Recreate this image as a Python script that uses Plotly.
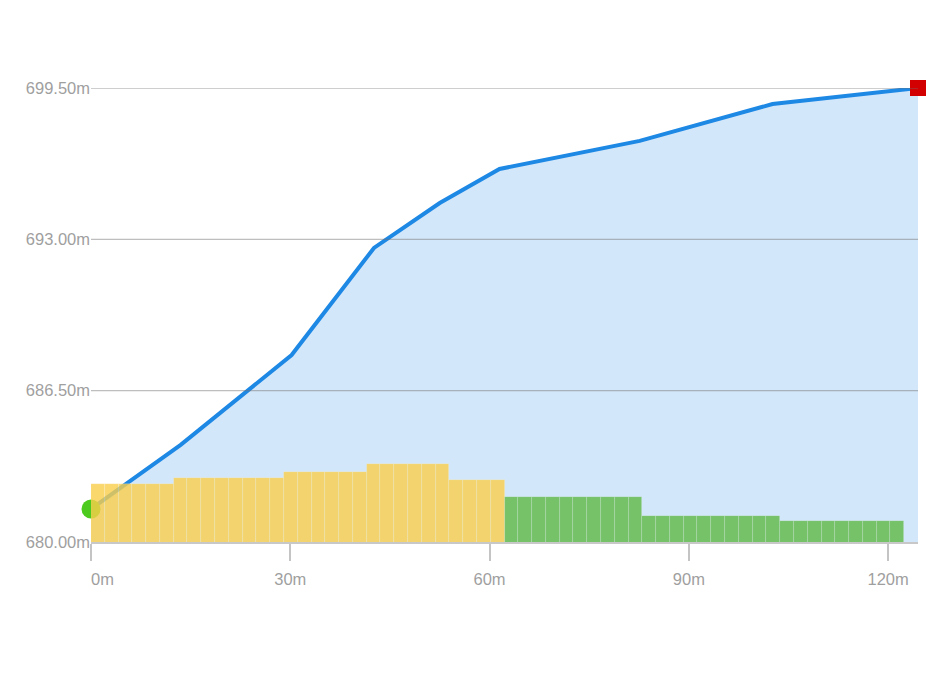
import plotly.graph_objects as go

# elevation profile (distance in m, elevation in m)
dist = [0, 13.5, 30.2, 42.6, 52.5, 61.5, 82.6, 102.6, 124.5]
elev = [681.42, 684.17, 688.03, 692.63, 694.56, 696.02, 697.23, 698.81, 699.50]

# grade columns, each 2.075 m wide, grouped by segment
col_width = 2.075
seg_counts = [6, 8, 6, 6, 4, 10, 10, 9]
seg_tops = [682.48, 682.76, 683.02, 683.35, 682.65, 681.95, 681.13, 680.89]
seg_colors = ["#facf4b", "#facf4b", "#facf4b", "#facf4b", "#facf4b",
              "#5fb944", "#5fb944", "#5fb944"]

y_ticks = [680.0, 686.5, 693.0, 699.5]
x_ticks = [0, 30, 60, 90, 120]

col_x, col_y, col_c = [], [], []
i = 0
for n, top, c in zip(seg_counts, seg_tops, seg_colors):
    for _ in range(n):
        col_x.append(i * col_width + col_width / 2)
        col_y.append(top)
        col_c.append(c)
        i += 1

fig = go.Figure()

fig.add_trace(go.Scatter(
    x=dist, y=elev, mode="lines", fill="tozeroy",
    fillcolor="#d3e7fa", line=dict(color="#1e88e5", width=4),
    hoverinfo="skip", showlegend=False,
))
fig.add_trace(go.Scatter(
    x=[dist[0]], y=[elev[0]], mode="markers",
    marker=dict(color="#4ccb1e", size=19, symbol="circle"),
    cliponaxis=False, showlegend=False,
))
fig.add_trace(go.Scatter(
    x=[dist[-1]], y=[elev[-1]], mode="markers",
    marker=dict(color="#d20000", size=16, symbol="square"),
    cliponaxis=False, showlegend=False,
))

# semi-transparent grade columns on an overlay axis so they sit on top
fig.add_trace(go.Bar(
    x=col_x, y=col_y, width=col_width, xaxis="x2", yaxis="y2",
    marker=dict(color=col_c, opacity=0.8,
                line=dict(color="rgba(255,255,255,0.3)", width=0.7)),
    showlegend=False,
))

# horizontal grid drawn above the filled area
for v in y_ticks[1:]:
    fig.add_shape(type="line", xref="paper", x0=0, x1=1, yref="y", y0=v, y1=v,
                  line=dict(color="rgba(110,110,110,0.45)", width=1.3), layer="above")

xr = [0, 124.5]
yr = [680, 699.5]
font_color = "#9f9f9f"

x_text = [f"{v}m" for v in x_ticks]
x_text[0] = "\u00a0" * 5 + x_text[0]

fig.update_layout(
    width=940, height=675,
    margin=dict(l=83, r=30, t=80, b=141),
    paper_bgcolor="white", plot_bgcolor="white",
    font=dict(family="Liberation Sans, Arial, sans-serif", size=16.5, color=font_color),
    bargap=0,
    xaxis=dict(
        range=xr, tickvals=x_ticks, ticktext=x_text,
        showgrid=False, zeroline=False,
        showline=True, linecolor="#c8c8c8", linewidth=1.5,
        ticks="outside", ticklen=17, tickcolor="#c4c4c4", tickwidth=1.5,
        ticklabelstandoff=4,
    ),
    yaxis=dict(
        range=yr, tickvals=y_ticks, ticktext=[f"{v:.2f}m" for v in y_ticks],
        showgrid=False, zeroline=False, showline=False, ticks="",
    ),
    xaxis2=dict(range=xr, overlaying="x", visible=False),
    yaxis2=dict(range=yr, overlaying="y", visible=False),
)

fig.write_html("out.html")
